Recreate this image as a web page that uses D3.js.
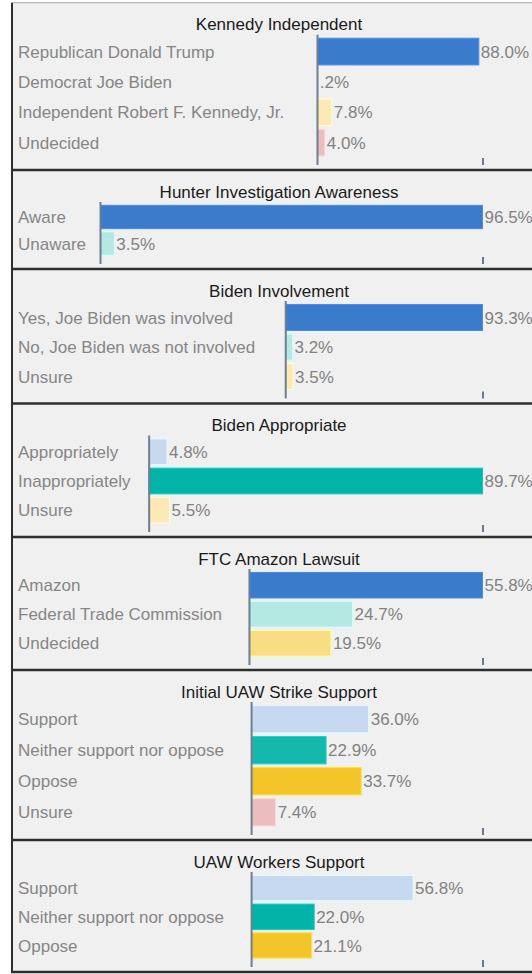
<!DOCTYPE html>
<html>
<head>
<meta charset="utf-8">
<script src="https://cdn.jsdelivr.net/npm/d3@7"></script>
<style>
	body { margin: 0; background: #fff; }
	svg { display: block; font-family: "Liberation Sans", Arial, sans-serif; }
</style>
</head>
<body>
<div id="chart"></div>
<script>

// Poll data, one pair of arrays per question
var titles = ['Kennedy Independent', 'Hunter Investigation Awareness', 'Biden Involvement', 'Biden Appropriate', 'FTC Amazon Lawsuit', 'Initial UAW Strike Support', 'UAW Workers Support'];

var kennedyLabels = ['Republican Donald Trump', 'Democrat Joe Biden', 'Independent Robert F. Kennedy, Jr.', 'Undecided'];
var kennedyValues = [88.0, 0.2, 7.8, 4.0];

var hunterLabels = ['Aware', 'Unaware'];
var hunterValues = [96.5, 3.5];

var involvementLabels = ['Yes, Joe Biden was involved', 'No, Joe Biden was not involved', 'Unsure'];
var involvementValues = [93.3, 3.2, 3.5];

var appropriateLabels = ['Appropriately', 'Inappropriately', 'Unsure'];
var appropriateValues = [4.8, 89.7, 5.5];

var amazonLabels = ['Amazon', 'Federal Trade Commission', 'Undecided'];
var amazonValues = [55.8, 24.7, 19.5];

var strikeLabels = ['Support', 'Neither support nor oppose', 'Oppose', 'Unsure'];
var strikeValues = [36.0, 22.9, 33.7, 7.4];

var workersLabels = ['Support', 'Neither support nor oppose', 'Oppose'];
var workersValues = [56.8, 22.0, 21.1];

// x scale maximum of each panel (the end tick)
var axisMax = [90, 96.5, 93.3, 89.7, 55.8, 71, 81.2];

// styles / layout
var barColors = [
	['#3b7bcc', '#c6d9f0', '#fde9b5', '#ebbdbd'],
	['#3b7bcc', '#b3e8e3'],
	['#3b7bcc', '#b3e8e3', '#fde9b5'],
	['#c6d9f0', '#02b3a7', '#fde9b5'],
	['#3b7bcc', '#b3e8e3', '#f9dd85'],
	['#c6d9f0', '#14b8ac', '#f4c52a', '#ebbdbd'],
	['#c6d9f0', '#02b3a7', '#f4c52a']
];
var panelHeights = [167.3, 99, 134.5, 133.5, 133, 170, 132];

var panels = [
	{labels: kennedyLabels, values: kennedyValues},
	{labels: hunterLabels, values: hunterValues},
	{labels: involvementLabels, values: involvementValues},
	{labels: appropriateLabels, values: appropriateValues},
	{labels: amazonLabels, values: amazonValues},
	{labels: strikeLabels, values: strikeValues},
	{labels: workersLabels, values: workersValues}
];

var width = 532, height = 974;
var panelX = 12, panelW = 534;
var firstTop = 2.7;
var labelX = 18;
var fontSize = 17;
var rangeEnd = 482.5;

var svg = d3.select('#chart').append('svg')
	.attr('width', width)
	.attr('height', height);

/**
 * Formats the value label, e.g. 88 -> "88.0%", 0.2 -> ".2%"
 */
var formatValue = function(v) {
	return d3.format('.1f')(v).replace(/^0\./, '.') + '%';
}

var panelTop = firstTop;
var boundaries = [panelTop];

panels.forEach(function(p, i) {

	var h = panelHeights[i];
	var g = svg.append('g').attr('transform', 'translate(0,' + panelTop + ')');

	g.append('rect')
		.attr('x', panelX)
		.attr('y', 0)
		.attr('width', panelW)
		.attr('height', h)
		.style('fill', '#f0f0f0');

	g.append('text')
		.attr('x', panelX + panelW / 2)
		.attr('y', 27.5)
		.attr('text-anchor', 'middle')
		.attr('font-size', fontSize + 'px')
		.style('fill', '#1a1a1a')
		.text(titles[i]);

	var rows = p.labels.map(function(l, j) { return {label: l, value: p.values[j], color: barColors[i][j]}; });

	var y = d3.scaleBand()
		.domain(p.labels)
		.range([34, h - 12.5])
		.paddingInner(0.12)
		.paddingOuter(0.05);

	// 1. Category labels, measured to place the axis
	var labels = g.selectAll('.cat').data(rows).enter().append('text')
		.attr('class', 'cat')
		.attr('x', labelX)
		.attr('y', function(d) { return y(d.label) + y.bandwidth() / 2; })
		.attr('dy', '0.36em')
		.attr('font-size', fontSize + 'px')
		.style('fill', '#868686')
		.text(function(d) { return d.label; });

	var maxW = 0;
	labels.each(function() { maxW = Math.max(maxW, this.getComputedTextLength()); });

	var axisX = labelX + maxW * 1.095 + 8;

	var x = d3.scaleLinear()
		.domain([0, axisMax[i]])
		.range([axisX, rangeEnd]);

	// 2. Bars
	g.selectAll('.bar').data(rows).enter().append('rect')
		.attr('class', 'bar')
		.attr('x', x(0))
		.attr('y', function(d) { return y(d.label); })
		.attr('width', function(d) { return x(d.value) - x(0); })
		.attr('height', y.bandwidth())
		.style('fill', function(d) { return d.color; })
		.style('stroke', function(d) { return d3.color(d.color).brighter(0.4); })
		.style('stroke-width', 1);

	// 3. Value labels
	g.selectAll('.val').data(rows).enter().append('text')
		.attr('class', 'val')
		.attr('x', function(d) { return x(d.value) + 2; })
		.attr('y', function(d) { return y(d.label) + y.bandwidth() / 2; })
		.attr('dy', '0.36em')
		.attr('font-size', fontSize + 'px')
		.style('fill', '#828282')
		.text(function(d) { return formatValue(d.value); });

	// 4. Vertical axis line
	g.append('line')
		.attr('x1', axisX).attr('x2', axisX)
		.attr('y1', 32).attr('y2', h - 5)
		.style('stroke', '#6e7e8e')
		.style('stroke-width', 2);

	// 5. Single end tick of the value axis
	var xAxis = g.append('g')
		.attr('transform', 'translate(0,' + (h - 12) + ')')
		.call(d3.axisBottom(x).tickValues([axisMax[i]]).tickSize(7).tickFormat(''));
	xAxis.select('.domain').remove();
	xAxis.selectAll('line').style('stroke', '#6a7b8f').style('stroke-width', 2);

	panelTop += h;
	boundaries.push(panelTop);
});

// panel borders
svg.append('line')
	.attr('x1', panelX).attr('x2', panelX + panelW)
	.attr('y1', firstTop).attr('y2', firstTop)
	.style('stroke', '#a8a8a8')
	.style('stroke-width', 1);

svg.selectAll('.sep').data(boundaries.slice(1)).enter().append('line')
	.attr('class', 'sep')
	.attr('x1', panelX - 1).attr('x2', panelX + panelW)
	.attr('y1', function(d) { return d; })
	.attr('y2', function(d) { return d; })
	.style('stroke', '#2e2e2e')
	.style('stroke-width', 2.5);

svg.append('line')
	.attr('x1', panelX).attr('x2', panelX)
	.attr('y1', firstTop).attr('y2', panelTop + 1)
	.style('stroke', '#2e2e2e')
	.style('stroke-width', 2);

</script>
</body>
</html>
